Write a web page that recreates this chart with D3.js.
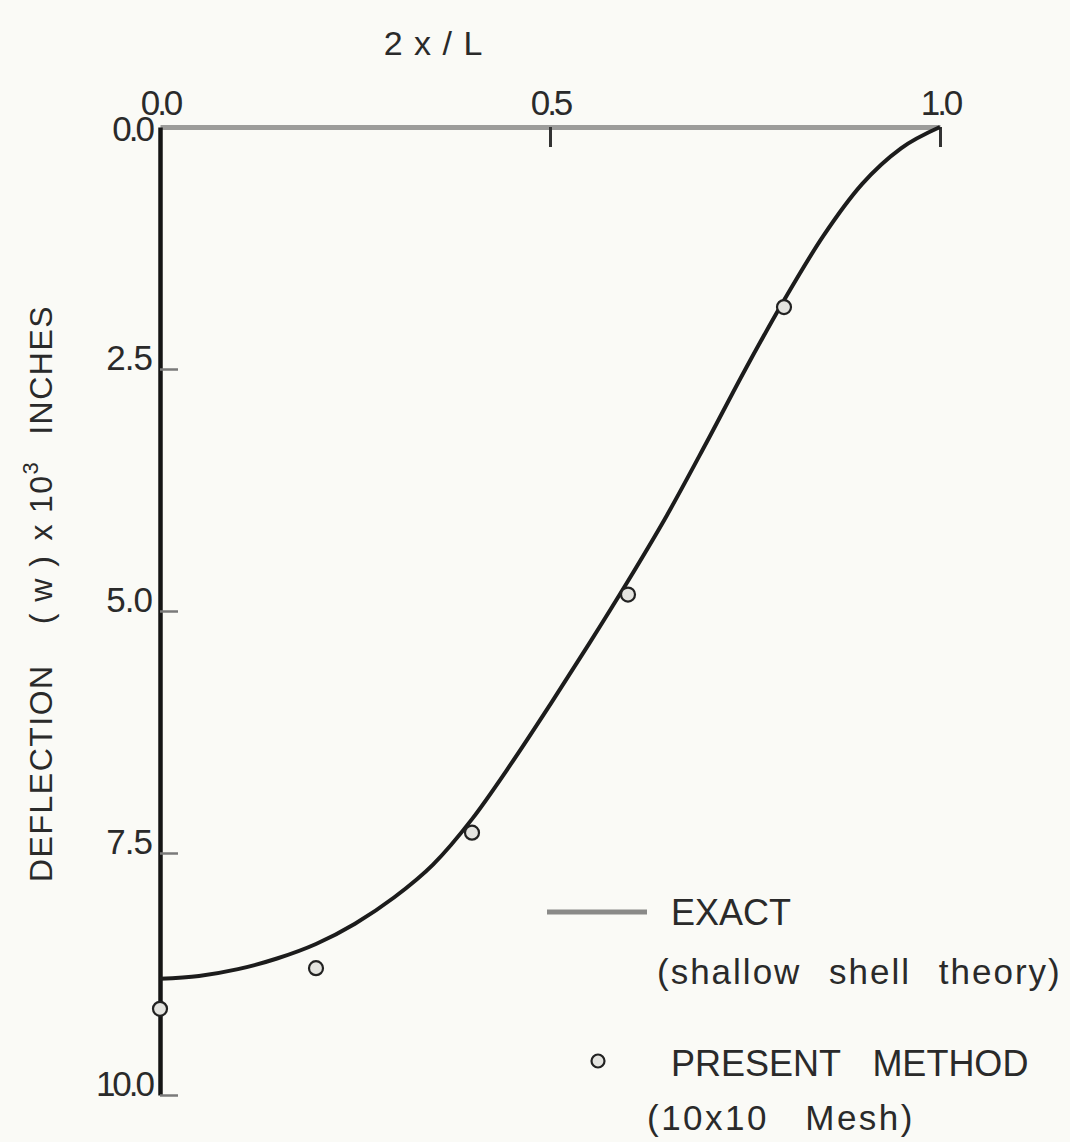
<!DOCTYPE html>
<html>
<head>
<meta charset="utf-8">
<script src="https://cdn.jsdelivr.net/npm/d3@7"></script>
<style>
  body { margin: 0; background: #fafaf6; }
  svg { display: block; }
  text { font-family: "Liberation Sans", Arial, sans-serif; fill: #2a2a2a; }
</style>
</head>
<body>
<div id="chart"></div>
<script>
// exact solution (shallow shell theory)
const exactX = [0, 0.05, 0.1, 0.15, 0.2, 0.25, 0.3, 0.35, 0.4, 0.45, 0.5,
  0.55, 0.6, 0.65, 0.7, 0.75, 0.8, 0.85, 0.9, 0.95, 1.0];
const exactW = [8.8, 8.77, 8.7, 8.59, 8.44, 8.23, 7.96, 7.62, 7.15, 6.58, 5.97,
  5.34, 4.69, 4.01, 3.27, 2.51, 1.79, 1.13, 0.59, 0.22, 0.0];

// present method (10x10 mesh)
const meshX = [0, 0.2, 0.4, 0.6, 0.8];
const meshW = [9.11, 8.69, 7.29, 4.83, 1.86];

const xTicks = [0, 0.5, 1.0];
const yTicks = [0, 2.5, 5.0, 7.5, 10.0];

const chartWidth = 1070;
const chartHeight = 1142;
const margin = { top: 127, right: 130, bottom: 47, left: 160 };
const width = chartWidth - margin.left - margin.right;
const height = chartHeight - margin.top - margin.bottom;

const svg = d3
  .select("#chart")
  .append("svg")
  .attr("width", chartWidth)
  .attr("height", chartHeight);

const g = svg
  .append("g")
  .attr("transform", `translate(${margin.left}, ${margin.top})`);

// scales: deflection grows downward
const x = d3.scaleLinear().domain([0, 1]).range([0, width]);
const y = d3.scaleLinear().domain([0, 10]).range([0, height]);

// top axis
const xAxis = g
  .append("g")
  .attr("class", "x axis")
  .call(
    d3.axisTop(x)
      .tickValues(xTicks)
      .tickSizeInner(-20)
      .tickSizeOuter(0)
      .tickPadding(12)
      .tickFormat(d3.format(".1f"))
  );
xAxis.select(".domain").attr("stroke", "#9c9c9a").attr("stroke-width", 5);
xAxis.selectAll(".tick line").attr("stroke", "#333").attr("stroke-width", 3);
xAxis.selectAll(".tick text")
  .attr("dy", "0em")
  .style("font-size", "35px")
  .style("letter-spacing", "-3px");
xAxis.selectAll(".tick").filter((d) => d === 0).select("line").remove();

// left axis
const yAxis = g
  .append("g")
  .attr("class", "y axis")
  .call(
    d3.axisLeft(y)
      .tickValues(yTicks)
      .tickSizeInner(-18)
      .tickSizeOuter(0)
      .tickPadding(8)
      .tickFormat(d3.format(".1f"))
  );
yAxis.select(".domain").attr("stroke", "#151515").attr("stroke-width", 4.5);
yAxis.selectAll(".tick line").attr("stroke", "#7a7a7a").attr("stroke-width", 2.5);
yAxis.selectAll(".tick text")
  .attr("dy", (d) => (d === 0 ? "0.38em" : "0.0em"))
  .style("font-size", "35px")
  .style("letter-spacing", (d) => (d === 0 || d === 10 ? "-3px" : "-1px"));
yAxis.selectAll(".tick").filter((d) => d === 0).select("line").remove();

// exact curve
const exactData = exactX.map((v, i) => ({ x: v, w: exactW[i] }));
const line = d3
  .line()
  .x((d) => x(d.x))
  .y((d) => y(d.w))
  .curve(d3.curveMonotoneX);

g.append("path")
  .datum(exactData)
  .attr("d", line)
  .attr("fill", "none")
  .attr("stroke", "#1c1c1c")
  .attr("stroke-width", 4);

// mesh points
const meshData = meshX.map((v, i) => ({ x: v, w: meshW[i] }));
g.selectAll(".dot")
  .data(meshData)
  .enter()
  .append("circle")
  .attr("class", "dot")
  .attr("cx", (d) => x(d.x))
  .attr("cy", (d) => y(d.w))
  .attr("r", 7)
  .attr("fill", "#e4e4e0")
  .attr("stroke", "#222")
  .attr("stroke-width", 2.2);

// x axis title
svg.append("text")
  .attr("x", 433)
  .attr("y", 55)
  .attr("text-anchor", "middle")
  .style("font-size", "34px")
  .style("word-spacing", "2px")
  .text("2 x / L");

// y axis title, written bottom to top
const yTitle = svg.append("text")
  .attr("transform", "translate(52, 882) rotate(-90)")
  .attr("text-anchor", "start")
  .style("font-size", "32px")
  .style("letter-spacing", "1.5px");
yTitle.append("tspan").text("DEFLECTION");
yTitle.append("tspan").attr("dx", 40).text("(\u00a0w\u00a0)");
yTitle.append("tspan").attr("dx", 14).text("x");
yTitle.append("tspan").attr("dx", 10).text("10");
yTitle.append("tspan").attr("dy", -14).style("font-size", "22px").text("3");
yTitle.append("tspan").attr("dy", 14).attr("dx", 26).text("INCHES");

// legend
const legend = svg.append("g");
legend.append("line")
  .attr("x1", 547).attr("x2", 647)
  .attr("y1", 912).attr("y2", 912)
  .attr("stroke", "#8a8a88")
  .attr("stroke-width", 5);
legend.append("text")
  .attr("x", 671).attr("y", 925)
  .style("font-size", "36px")
  .text("EXACT");
legend.append("text")
  .attr("x", 657).attr("y", 984)
  .style("font-size", "35px")
  .style("letter-spacing", "2px")
  .style("word-spacing", "16px")
  .text("(shallow shell theory)");
legend.append("circle")
  .attr("cx", 598).attr("cy", 1061)
  .attr("r", 6.5)
  .attr("fill", "#e4e4e0")
  .attr("stroke", "#222")
  .attr("stroke-width", 2.2);
legend.append("text")
  .attr("x", 671).attr("y", 1076)
  .style("font-size", "36px")
  .style("word-spacing", "22px")
  .text("PRESENT METHOD");
legend.append("text")
  .attr("x", 647).attr("y", 1130)
  .style("font-size", "35px")
  .style("letter-spacing", "2.5px")
  .style("word-spacing", "24px")
  .text("(10x10 Mesh)");
</script>
</body>
</html>
